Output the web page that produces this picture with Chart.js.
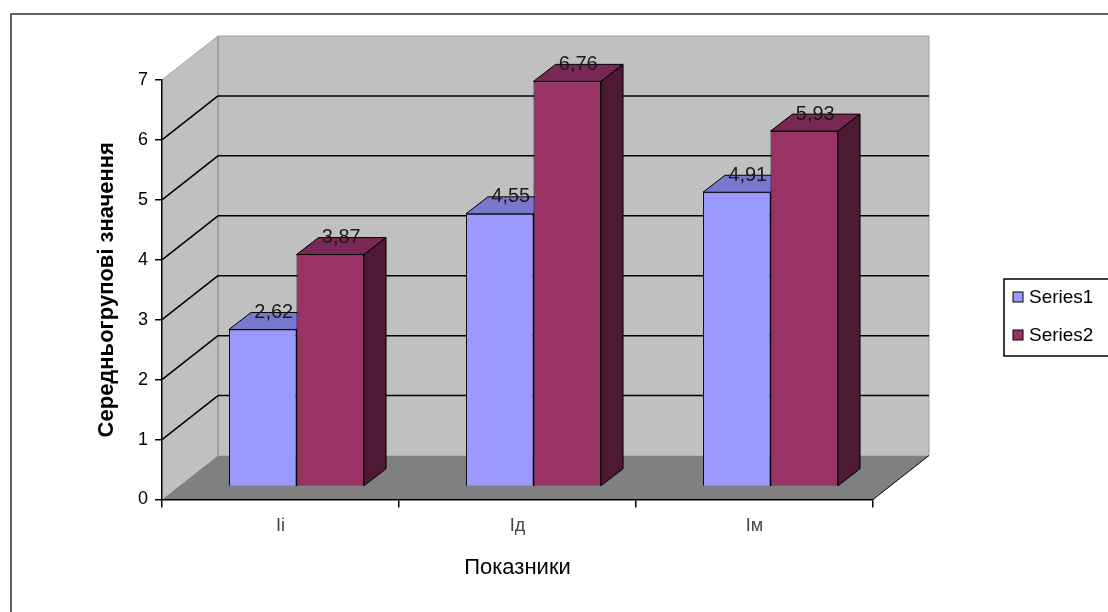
<!DOCTYPE html>
<html>
<head>
<meta charset="utf-8">
<script src="https://cdn.jsdelivr.net/npm/chart.js@4.4.1/dist/chart.umd.min.js"></script>
<style>
  body { margin: 0; background: #fff; }
  canvas { display: block; }
</style>
</head>
<body>
<canvas id="chart" width="1108" height="612"></canvas>
<script>
const categories = ["Іі", "Ід", "Ім"];
const series1 = [2.62, 4.55, 4.91];
const series2 = [3.87, 6.76, 5.93];
const seriesNames = ["Series1", "Series2"];
const yMin = 0, yMax = 7, yStep = 1;

const FONT = "'Liberation Sans', Arial, sans-serif";
const WALL = { dx: 56, dy: -44 };      // full depth of the 3d box
const BAR_OFF = { dx: 16, dy: -13 };   // bars front face sits inside the box
const BAR_DEPTH = { dx: 22, dy: -17 }; // depth of each column

const faces = [
  { front: '#9999ff', top: '#7878cc', side: '#5c5c99' },
  { front: '#993366', top: '#782852', side: '#4d1933' }
];

function poly(ctx, pts) {
  ctx.beginPath();
  ctx.moveTo(pts[0][0], pts[0][1]);
  for (let i = 1; i < pts.length; i++) ctx.lineTo(pts[i][0], pts[i][1]);
  ctx.closePath();
}

function line(ctx, x1, y1, x2, y2) {
  ctx.beginPath();
  ctx.moveTo(x1, y1);
  ctx.lineTo(x2, y2);
  ctx.stroke();
}

// walls, floor and grid of the 3d box, drawn under the axes
const wallsPlugin = {
  id: 'walls',
  beforeDraw(chart) {
    const ctx = chart.ctx;
    const ys = chart.scales.y;
    const x0 = chart.chartArea.left, x1 = chart.chartArea.right;
    const y0 = ys.getPixelForValue(yMin), yT = ys.getPixelForValue(yMax);
    ctx.save();

    // outer chart border (right and bottom run off the picture)
    ctx.strokeStyle = '#333';
    ctx.lineWidth = 1.5;
    ctx.strokeRect(11, 14, 1300, 800);

    ctx.fillStyle = '#c0c0c0';
    poly(ctx, [[x0, y0], [x0 + WALL.dx, y0 + WALL.dy], [x0 + WALL.dx, yT + WALL.dy], [x0, yT]]);
    ctx.fill();
    ctx.fillRect(x0 + WALL.dx, yT + WALL.dy, x1 - x0, y0 - yT);

    ctx.fillStyle = '#808080';
    poly(ctx, [[x0, y0], [x0 + WALL.dx, y0 + WALL.dy], [x1 + WALL.dx, y0 + WALL.dy], [x1, y0]]);
    ctx.fill();

    // wall edges
    ctx.lineWidth = 1;
    ctx.strokeStyle = '#808080';
    line(ctx, x0 + WALL.dx, yT + WALL.dy, x0 + WALL.dx, y0 + WALL.dy);
    ctx.strokeStyle = '#a0a0a0';
    line(ctx, x0, yT, x0 + WALL.dx, yT + WALL.dy);
    line(ctx, x0 + WALL.dx, yT + WALL.dy, x1 + WALL.dx, yT + WALL.dy);
    line(ctx, x1 + WALL.dx, yT + WALL.dy, x1 + WALL.dx, y0 + WALL.dy);
    ctx.strokeStyle = '#000';
    line(ctx, x1, y0, x1 + WALL.dx, y0 + WALL.dy);

    // gridlines on side and back wall
    ctx.lineWidth = 1.5;
    for (let v = yMin + yStep; v < yMax; v += yStep) {
      const y = ys.getPixelForValue(v);
      line(ctx, x0, y, x0 + WALL.dx, y + WALL.dy);
      line(ctx, x0 + WALL.dx, y + WALL.dy, x1 + WALL.dx, y + WALL.dy);
    }
    ctx.restore();
  }
};

// columns with top and side faces plus value labels
const columnsPlugin = {
  id: 'columns3d',
  beforeDatasetsDraw(chart) {
    const ctx = chart.ctx;
    const metas = chart.data.datasets.map((d, i) => chart.getDatasetMeta(i));
    ctx.save();
    ctx.lineWidth = 1;
    ctx.strokeStyle = '#000';
    const labels = [];
    categories.forEach((c, i) => {
      metas.forEach((meta, d) => {
        const el = meta.data[i];
        const p = el.getProps(['x', 'y', 'base', 'width'], true);
        const L = p.x - p.width / 2 + BAR_OFF.dx;
        const R = p.x + p.width / 2 + BAR_OFF.dx;
        const T = p.y + BAR_OFF.dy;
        const B = p.base + BAR_OFF.dy;
        ctx.save();
        ctx.translate(BAR_OFF.dx, BAR_OFF.dy);
        el.draw(ctx);
        ctx.restore();
        ctx.fillStyle = faces[d].top;
        poly(ctx, [[L, T], [L + BAR_DEPTH.dx, T + BAR_DEPTH.dy], [R + BAR_DEPTH.dx, T + BAR_DEPTH.dy], [R, T]]);
        ctx.fill();
        ctx.stroke();
        ctx.fillStyle = faces[d].side;
        poly(ctx, [[R, T], [R + BAR_DEPTH.dx, T + BAR_DEPTH.dy], [R + BAR_DEPTH.dx, B + BAR_DEPTH.dy], [R, B]]);
        ctx.fill();
        ctx.stroke();
        const v = chart.data.datasets[d].data[i];
        labels.push([(L + R) / 2 + BAR_DEPTH.dx / 2, T + BAR_DEPTH.dy, v.toFixed(2).replace('.', ',')]);
      });
    });
    ctx.fillStyle = '#1a1a1a';
    ctx.font = '20px ' + FONT;
    ctx.textAlign = 'center';
    ctx.textBaseline = 'middle';
    labels.forEach(l => ctx.fillText(l[2], l[0], l[1]));
    ctx.restore();
    return false;
  }
};

// boxed legend at the right edge
const legendPlugin = {
  id: 'boxLegend',
  afterDraw(chart) {
    const ctx = chart.ctx;
    ctx.save();
    ctx.strokeStyle = '#000';
    ctx.lineWidth = 1.5;
    ctx.strokeRect(1004, 279, 200, 77);
    ctx.font = '19px ' + FONT;
    ctx.textBaseline = 'middle';
    ctx.textAlign = 'left';
    chart.data.datasets.forEach((ds, i) => {
      const y = 297 + i * 38;
      ctx.fillStyle = ds.backgroundColor;
      ctx.fillRect(1013, y - 5, 10, 10);
      ctx.lineWidth = 1;
      ctx.strokeRect(1013, y - 5, 10, 10);
      ctx.fillStyle = '#000';
      ctx.fillText(ds.label, 1029, y + 1);
    });
    ctx.restore();
  }
};

new Chart(document.getElementById('chart'), {
  type: 'bar',
  data: {
    labels: categories,
    datasets: [
      { label: seriesNames[0], data: series1, backgroundColor: faces[0].front, borderColor: '#000', borderWidth: 1 },
      { label: seriesNames[1], data: series2, backgroundColor: faces[1].front, borderColor: '#000', borderWidth: 1 }
    ]
  },
  options: {
    responsive: false,
    animation: false,
    categoryPercentage: 0.57,
    barPercentage: 1,
    layout: { padding: { left: 90, top: 80, right: 235, bottom: 27 } },
    plugins: {
      legend: { display: false },
      tooltip: { enabled: false }
    },
    scales: {
      x: {
        offset: true,
        grid: { offset: true, drawOnChartArea: false, tickLength: 8, color: '#000', lineWidth: 1.5 },
        border: { color: '#000', width: 1.5 },
        ticks: { font: { family: FONT, size: 18 }, color: '#444', padding: 8 },
        title: { display: true, text: 'Показники', font: { family: FONT, size: 22 }, color: '#000' },
        afterFit(scale) { scale.height = 85.5; }
      },
      y: {
        min: yMin,
        max: yMax,
        ticks: { stepSize: yStep, font: { family: FONT, size: 18 }, color: '#000', padding: 7 },
        grid: { drawOnChartArea: false, tickLength: 7, color: '#000', lineWidth: 1.5 },
        border: { color: '#000', width: 1.5 },
        title: { display: true, text: 'Середньогрупові значення', font: { family: FONT, size: 22, weight: 'bold' }, color: '#000' },
        afterFit(scale) { scale.width = 72; }
      }
    }
  },
  plugins: [wallsPlugin, columnsPlugin, legendPlugin]
});
</script>
</body>
</html>
